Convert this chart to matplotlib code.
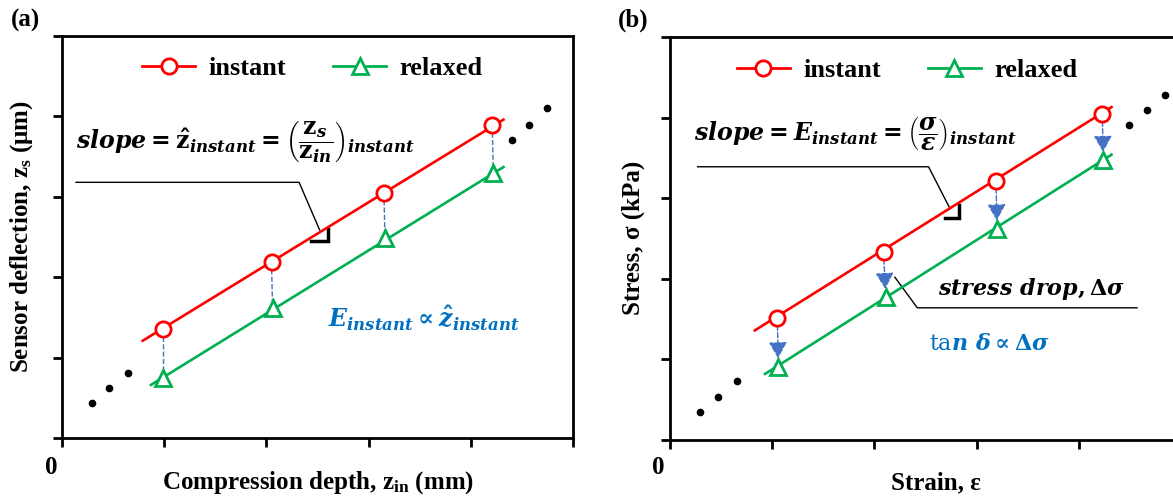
import matplotlib
matplotlib.use("Agg")
import matplotlib.pyplot as plt
from matplotlib.lines import Line2D

plt.rcParams['font.family'] = ['Liberation Serif', 'DejaVu Serif']
plt.rcParams['font.weight'] = 'bold'
plt.rcParams['mathtext.fontset'] = 'custom'
plt.rcParams['mathtext.rm'] = 'DejaVu Serif:bold'
plt.rcParams['mathtext.it'] = 'DejaVu Serif:italic:bold'
plt.rcParams['mathtext.bf'] = 'Liberation Serif:bold'
plt.rcParams['mathtext.sf'] = 'DejaVu Serif:weight=normal'

RED = '#FF0000'
GREEN = '#00B050'
BLUE = '#4472C4'
TXTBLUE = '#0070C0'

# (a) sensor deflection vs compression depth
a_inst_x = [0.99, 2.05, 3.15, 4.21]
a_inst_y = [1.36, 2.19, 3.05, 3.89]
a_rel_x = [0.99, 2.06, 3.16, 4.22]
a_rel_y = [0.75, 1.62, 2.49, 3.30]
a_inst_line_x = [0.79, 4.32]
a_inst_line_y = [1.21, 3.96]
a_rel_line_x = [0.87, 4.32]
a_rel_line_y = [0.66, 3.37]
a_dots_x = [0.29, 0.46, 0.65, 4.40, 4.57, 4.75]
a_dots_y = [0.44, 0.62, 0.81, 3.71, 3.89, 4.10]

# (b) stress vs strain
b_inst_x = [1.05, 2.09, 3.19, 4.23]
b_inst_y = [1.51, 2.33, 3.21, 4.04]
b_rel_x = [1.06, 2.11, 3.20, 4.24]
b_rel_y = [0.91, 1.77, 2.62, 3.47]
b_inst_line_x = [0.83, 4.32]
b_inst_line_y = [1.36, 4.13]
b_rel_line_x = [0.93, 4.32]
b_rel_line_y = [0.82, 3.54]
b_dots_x = [0.29, 0.47, 0.66, 4.49, 4.67, 4.84]
b_dots_y = [0.35, 0.53, 0.73, 3.91, 4.09, 4.28]

W, H = 1173, 501
fig = plt.figure(figsize=(W / 100, H / 100), dpi=100)
ax1 = fig.add_axes([62 / W, 1 - 438 / H, 511 / W, 402 / H])
ax2 = fig.add_axes([670 / W, 1 - 440 / H, 511 / W, 403 / H])


def style_axes(ax):
    ax.set_xlim(0, 5)
    ax.set_ylim(0, 5)
    ax.set_xticks(range(6))
    ax.set_yticks(range(6))
    ax.tick_params(direction='out', length=6.5, width=2,
                   labelbottom=False, labelleft=False)
    for s in ax.spines.values():
        s.set_linewidth(2)


def draw_series(ax, ix, iy, lx, ly, rx, ry, rlx, rly, dx, dy):
    ax.plot(lx, ly, color=RED, lw=1.9, zorder=3)
    ax.plot(rlx, rly, color=GREEN, lw=1.9, zorder=3)
    ax.plot(ix, iy, ls='none', marker='o', ms=11, mew=2, mec=RED, mfc='white', zorder=5)
    ax.plot(rx, ry, ls='none', marker='^', ms=11, mew=2, mec=GREEN, mfc='white', zorder=5)
    ax.plot(dx, dy, ls='none', marker='o', ms=4.5, color='black')
    handles = [Line2D([], [], color=RED, lw=2, marker='o', ms=11, mew=2, mec=RED, mfc='white'),
               Line2D([], [], color=GREEN, lw=2, marker='^', ms=11, mew=2, mec=GREEN, mfc='white')]
    return handles


for ax in (ax1, ax2):
    style_axes(ax)

h = draw_series(ax1, a_inst_x, a_inst_y, a_inst_line_x, a_inst_line_y,
                a_rel_x, a_rel_y, a_rel_line_x, a_rel_line_y, a_dots_x, a_dots_y)
ax1.legend(h, ['instant', 'relaxed'], ncol=2, frameon=False, loc='center',
           bbox_to_anchor=(0.49, 0.92), fontsize=19, handlelength=2.0,
           handletextpad=0.5, columnspacing=1.8, numpoints=1)
h = draw_series(ax2, b_inst_x, b_inst_y, b_inst_line_x, b_inst_line_y,
                b_rel_x, b_rel_y, b_rel_line_x, b_rel_line_y, b_dots_x, b_dots_y)
ax2.legend(h, ['instant', 'relaxed'], ncol=2, frameon=False, loc='center',
           bbox_to_anchor=(0.464, 0.918), fontsize=19, handlelength=2.0,
           handletextpad=0.5, columnspacing=1.8, numpoints=1)

# dashed drops
for x0, y0, x1, y1 in zip(a_inst_x, a_inst_y, a_rel_x, a_rel_y):
    ax1.plot([x0, x1], [y0, y1], color=BLUE, lw=1, ls='--', zorder=2)
for x0, y0, x1, y1 in zip(b_inst_x, b_inst_y, b_rel_x, b_rel_y):
    ax2.annotate('', xy=(x1, y1), xytext=(x0, y0),
                 arrowprops=dict(arrowstyle='-|>,head_length=0.5,head_width=0.28',
                                 color=BLUE, lw=1, ls='--', shrinkA=5, shrinkB=6,
                                 mutation_scale=20), zorder=4)

# annotations (a)
ax1.text(0.027, 0.718, r'$slope = \hat{\mathrm{z}}_{instant} = \left(\dfrac{\mathrm{z}_{s}}{\mathrm{z}_{in}}\right)_{instant}$',
         transform=ax1.transAxes, fontsize=17, va='baseline', ha='left')
ax1.plot([0.137, 2.32, 2.52], [3.18, 3.18, 2.59], color='black', lw=1)
ax1.plot([2.60, 2.60, 2.44], [2.60, 2.45, 2.45], color='black', lw=2.5,
         solid_joinstyle='miter')
ax1.text(0.52, 0.276, r'$E_{instant} \propto \hat{z}_{instant}$', color=TXTBLUE,
         transform=ax1.transAxes, fontsize=17, va='baseline', ha='left')

# annotations (b)
ax2.text(0.047, 0.741, r'$slope = E_{instant} = \left(\dfrac{\sigma}{\varepsilon}\right)_{instant}$',
         transform=ax2.transAxes, fontsize=17, va='baseline', ha='left')
ax2.plot([0.27, 2.53, 2.74], [3.39, 3.39, 2.87], color='black', lw=1)
ax2.plot([2.83, 2.83, 2.69], [2.92, 2.75, 2.75], color='black', lw=2.5,
         solid_joinstyle='miter')
ax2.text(0.524, 0.36, r'$stress\ drop, \Delta\sigma$',
         transform=ax2.transAxes, fontsize=16, va='baseline', ha='left')
ax2.plot([2.20, 2.42, 4.57], [2.02, 1.64, 1.64], color='black', lw=1)
ax2.text(0.507, 0.223, r'$\mathsf{ta}n\ \delta \propto \Delta\sigma$', color=TXTBLUE,
         transform=ax2.transAxes, fontsize=16, va='baseline', ha='left')

# labels
fig.text(25 / W, 1 - 20 / H, '(a)', fontsize=18, ha='center', va='center')
fig.text(633 / W, 1 - 20 / H, '(b)', fontsize=18, ha='center', va='center')
fig.text(51 / W, 1 - 468 / H, '0', fontsize=18, ha='center', va='center')
fig.text(658 / W, 1 - 468 / H, '0', fontsize=18, ha='center', va='center')
fig.text(318 / W, 1 - 483 / H, r'Compression depth, z$_{\mathbf{in}}$ (mm)',
         fontsize=18, ha='center', va='center')
fig.text(936 / W, 1 - 483 / H, 'Strain, ε', fontsize=18, ha='center', va='center')
fig.text(22 / W, 1 - 237 / H, r'Sensor deflection, z$_{\mathbf{s}}$ (μm)',
         fontsize=18, ha='center', va='center', rotation=90)
fig.text(633 / W, 1 - 238 / H, 'Stress, σ (kPa)', fontsize=18, ha='center',
         va='center', rotation=90)

fig.savefig('out.png', dpi=100)
